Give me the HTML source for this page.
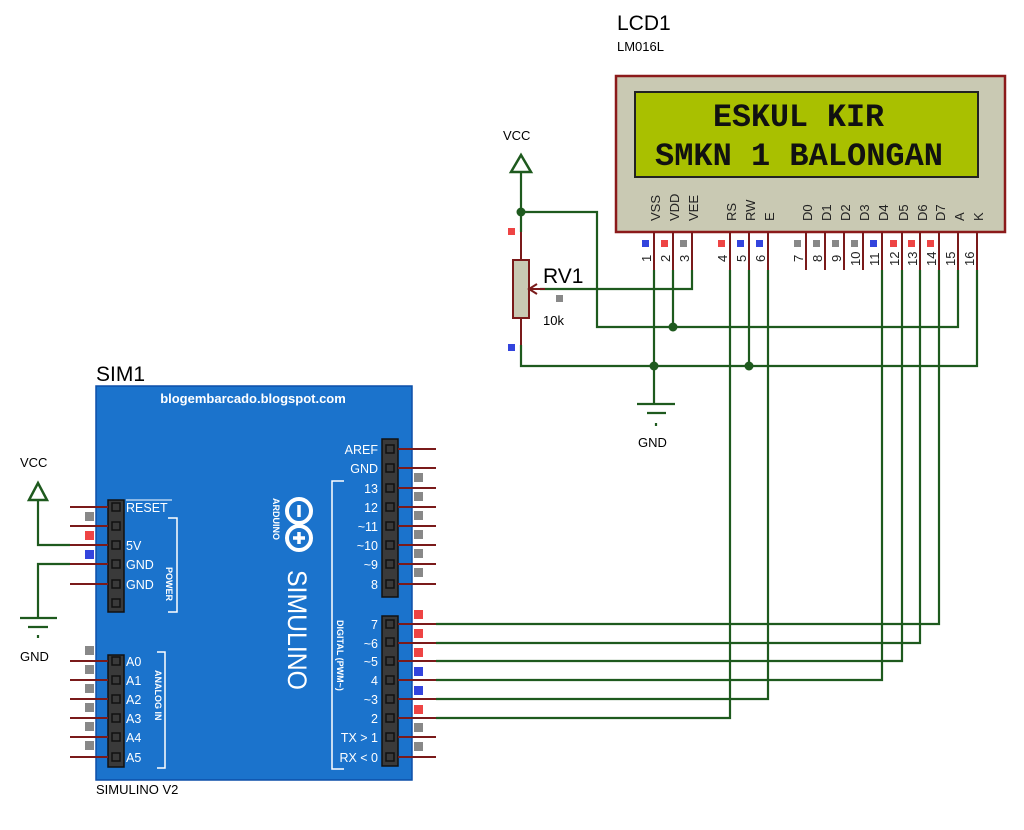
<!DOCTYPE html>
<html><head><meta charset="utf-8"><style>
html,body{margin:0;padding:0;background:#fff;}
svg{display:block;font-family:"Liberation Sans",Arial,sans-serif;}
</style></head><body>
<svg width="1024" height="830" viewBox="0 0 1024 830" xmlns="http://www.w3.org/2000/svg">
<rect width="1024" height="830" fill="#fff"/>
<!-- LCD -->
<text x="617" y="30" font-size="21">LCD1</text>
<text x="617" y="51" font-size="13">LM016L</text>
<rect x="616" y="76" width="389" height="156" fill="#c9c9b3" stroke="#8b1a1a" stroke-width="2.5"/>
<rect x="635" y="92" width="343" height="85" fill="#a9c000" stroke="#222" stroke-width="2"/>
<text x="713" y="126" font-family="Liberation Mono,monospace" font-size="32" font-weight="bold" textLength="171" lengthAdjust="spacingAndGlyphs" fill="#111">ESKUL KIR</text>
<text x="655" y="165" font-family="Liberation Mono,monospace" font-size="32" font-weight="bold" textLength="288" lengthAdjust="spacingAndGlyphs" fill="#111">SMKN 1 BALONGAN</text>
<g font-size="13" fill="#222">
<text transform="translate(660,221) rotate(-90)">VSS</text>
<text transform="translate(679,221) rotate(-90)">VDD</text>
<text transform="translate(698,221) rotate(-90)">VEE</text>
<text transform="translate(736,221) rotate(-90)">RS</text>
<text transform="translate(755,221) rotate(-90)">RW</text>
<text transform="translate(774,221) rotate(-90)">E</text>
<text transform="translate(812,221) rotate(-90)">D0</text>
<text transform="translate(831,221) rotate(-90)">D1</text>
<text transform="translate(850,221) rotate(-90)">D2</text>
<text transform="translate(869,221) rotate(-90)">D3</text>
<text transform="translate(888,221) rotate(-90)">D4</text>
<text transform="translate(908,221) rotate(-90)">D5</text>
<text transform="translate(927,221) rotate(-90)">D6</text>
<text transform="translate(945,221) rotate(-90)">D7</text>
<text transform="translate(964,221) rotate(-90)">A</text>
<text transform="translate(983,221) rotate(-90)">K</text>
</g>
<g font-size="13" fill="#222">
<text transform="translate(651,262) rotate(-90)">1</text>
<text transform="translate(670,262) rotate(-90)">2</text>
<text transform="translate(689,262) rotate(-90)">3</text>
<text transform="translate(727,262) rotate(-90)">4</text>
<text transform="translate(746,262) rotate(-90)">5</text>
<text transform="translate(765,262) rotate(-90)">6</text>
<text transform="translate(803,262) rotate(-90)">7</text>
<text transform="translate(822,262) rotate(-90)">8</text>
<text transform="translate(841,262) rotate(-90)">9</text>
<text transform="translate(860,266) rotate(-90)">10</text>
<text transform="translate(879,266) rotate(-90)">11</text>
<text transform="translate(899,266) rotate(-90)">12</text>
<text transform="translate(917,266) rotate(-90)">13</text>
<text transform="translate(936,266) rotate(-90)">14</text>
<text transform="translate(955,266) rotate(-90)">15</text>
<text transform="translate(974,266) rotate(-90)">16</text>
</g>
<g stroke="#7a1a1a" stroke-width="2">
<path d="M654 232V270M673 232V270M692 232V270M730 232V270M749 232V270M768 232V270M806 232V270M825 232V270M844 232V270M863 232V270M882 232V270M902 232V270M920 232V270M939 232V270M958 232V270M977 232V270"/>
</g>
<g>
<rect x="642" y="240" width="7" height="7" fill="#3344dd"/><rect x="661" y="240" width="7" height="7" fill="#ee4444"/><rect x="680" y="240" width="7" height="7" fill="#888"/>
<rect x="718" y="240" width="7" height="7" fill="#ee4444"/><rect x="737" y="240" width="7" height="7" fill="#3344dd"/><rect x="756" y="240" width="7" height="7" fill="#3344dd"/>
<rect x="794" y="240" width="7" height="7" fill="#888"/><rect x="813" y="240" width="7" height="7" fill="#888"/><rect x="832" y="240" width="7" height="7" fill="#888"/><rect x="851" y="240" width="7" height="7" fill="#888"/>
<rect x="870" y="240" width="7" height="7" fill="#3344dd"/><rect x="890" y="240" width="7" height="7" fill="#ee4444"/><rect x="908" y="240" width="7" height="7" fill="#ee4444"/><rect x="927" y="240" width="7" height="7" fill="#ee4444"/>
</g>
<g stroke="#1e5a1e" stroke-width="2.2" fill="none">
<path d="M521 172V232"/>
<path d="M521 212H597V327H958V270"/>
<path d="M673 270V327"/>
<path d="M521 345V366H977V270"/>
<path d="M654 270V404"/>
<path d="M749 270V366"/>
<path d="M692 270V289H540"/>
<path d="M730 270V718H436"/>
<path d="M768 270V699H436"/>
<path d="M882 270V680H436"/>
<path d="M902 270V661H436"/>
<path d="M920 270V643H436"/>
<path d="M939 270V624H436"/>
<path d="M637 404H675M647 413H666"/>
<path d="M656 423v3"/>
</g>
<path d="M511 172L521 155L531 172Z" fill="none" stroke="#1e5a1e" stroke-width="2.5"/>
<g fill="#1e5a1e"><circle cx="521" cy="212" r="4.5"/><circle cx="673" cy="327" r="4.5"/><circle cx="654" cy="366" r="4.5"/><circle cx="749" cy="366" r="4.5"/></g>
<text x="503" y="140" font-size="13">VCC</text>
<text x="638" y="447" font-size="13">GND</text>
<path d="M521 232V260M521 318V345" stroke="#7a1a1a" stroke-width="2"/>
<rect x="513" y="260" width="16" height="58" fill="#c9c9b3" stroke="#7a1a1a" stroke-width="2"/>
<path d="M529 289H545" stroke="#7a1a1a" stroke-width="2"/>
<path d="M537 284L529 289L537 294" fill="none" stroke="#7a1a1a" stroke-width="2"/>
<rect x="508" y="228" width="7" height="7" fill="#ee4444"/>
<rect x="508" y="344" width="7" height="7" fill="#3344dd"/>
<rect x="556" y="295" width="7" height="7" fill="#888"/>
<text x="543" y="283" font-size="21">RV1</text>
<text x="543" y="325" font-size="13">10k</text>
<text x="96" y="381" font-size="21">SIM1</text>
<text x="96" y="794" font-size="13">SIMULINO V2</text>
<rect x="96" y="386" width="316" height="394" fill="#1b73cc" stroke="#0d4fa8" stroke-width="1.5"/>
<text x="253" y="403" font-size="13" font-weight="bold" fill="#fff" text-anchor="middle">blogembarcado.blogspot.com</text>
<g stroke="#fff" stroke-width="4" fill="none"><circle cx="299" cy="511" r="12"/><circle cx="299" cy="538" r="12"/></g>
<path d="M299 505v12M299 532v12M293 538h12" stroke="#fff" stroke-width="3.5"/>
<text transform="translate(273,498) rotate(90)" font-size="9" font-weight="bold" fill="#fff">ARDUINO</text>
<text transform="translate(288,570) rotate(90)" font-size="27" fill="#fff" textLength="120" lengthAdjust="spacingAndGlyphs">SIMULINO</text>
<text transform="translate(337,620) rotate(90)" font-size="9" font-weight="bold" fill="#fff">DIGITAL  (PWM~)</text>
<text transform="translate(166,567) rotate(90)" font-size="9" font-weight="bold" fill="#fff">POWER</text>
<text transform="translate(155,670) rotate(90)" font-size="9" font-weight="bold" fill="#fff">ANALOG IN</text>
<g stroke="#fff" stroke-width="1.5" fill="none">
<path d="M344 481H332V769H344"/>
<path d="M168 518H177V612H168"/>
<path d="M157 652H165V768H157"/>
</g>
<g fill="#3a3a3a" stroke="#111" stroke-width="1.5">
<rect x="382" y="439" width="16" height="158"/>
<rect x="382" y="616" width="16" height="150"/>
<rect x="108" y="500" width="16" height="112"/>
<rect x="108" y="655" width="16" height="112"/>
</g>
<g fill="none" stroke="#111" stroke-width="1.5">
<rect x="386" y="445" width="8" height="8"/><rect x="386" y="464" width="8" height="8"/><rect x="386" y="484" width="8" height="8"/><rect x="386" y="503" width="8" height="8"/><rect x="386" y="522" width="8" height="8"/><rect x="386" y="541" width="8" height="8"/><rect x="386" y="560" width="8" height="8"/><rect x="386" y="580" width="8" height="8"/>
<rect x="386" y="620" width="8" height="8"/><rect x="386" y="638" width="8" height="8"/><rect x="386" y="657" width="8" height="8"/><rect x="386" y="676" width="8" height="8"/><rect x="386" y="695" width="8" height="8"/><rect x="386" y="714" width="8" height="8"/><rect x="386" y="733" width="8" height="8"/><rect x="386" y="753" width="8" height="8"/>
<rect x="112" y="503" width="8" height="8"/><rect x="112" y="522" width="8" height="8"/><rect x="112" y="541" width="8" height="8"/><rect x="112" y="560" width="8" height="8"/><rect x="112" y="580" width="8" height="8"/><rect x="112" y="599" width="8" height="8"/>
<rect x="112" y="657" width="8" height="8"/><rect x="112" y="676" width="8" height="8"/><rect x="112" y="695" width="8" height="8"/><rect x="112" y="714" width="8" height="8"/><rect x="112" y="733" width="8" height="8"/><rect x="112" y="753" width="8" height="8"/>
</g>
<g font-size="12.5" fill="#fff" text-anchor="end">
<text x="378" y="454">AREF</text><text x="378" y="473">GND</text><text x="378" y="493">13</text><text x="378" y="512">12</text><text x="378" y="531">~11</text><text x="378" y="550">~10</text><text x="378" y="569">~9</text><text x="378" y="589">8</text>
<text x="378" y="629">7</text><text x="378" y="648">~6</text><text x="378" y="666">~5</text><text x="378" y="685">4</text><text x="378" y="704">~3</text><text x="378" y="723">2</text><text x="378" y="742">TX &gt; 1</text><text x="378" y="762">RX &lt; 0</text>
</g>
<g font-size="12.5" fill="#fff">
<text x="126" y="512">RESET</text><text x="126" y="550">5V</text><text x="126" y="569">GND</text><text x="126" y="589">GND</text>
<text x="126" y="666">A0</text><text x="126" y="685">A1</text><text x="126" y="704">A2</text><text x="126" y="723">A3</text><text x="126" y="742">A4</text><text x="126" y="762">A5</text>
</g>
<path d="M126 500H172" stroke="#fff" stroke-width="1"/>
<g stroke="#7a1a1a" stroke-width="2">
<path d="M398 449H436M398 468H436M398 488H436M398 507H436M398 526H436M398 545H436M398 564H436M398 584H436M398 624H436M398 643H436M398 661H436M398 680H436M398 699H436M398 718H436M398 737H436M398 757H436"/>
<path d="M70 507H108M70 526H108M70 545H108M70 564H108M70 584H108"/>
<path d="M70 661H108M70 680H108M70 699H108M70 718H108M70 737H108M70 757H108"/>
</g>
<g fill="#888">
<rect x="414" y="473" width="9" height="9"/><rect x="414" y="492" width="9" height="9"/><rect x="414" y="511" width="9" height="9"/><rect x="414" y="530" width="9" height="9"/><rect x="414" y="549" width="9" height="9"/><rect x="414" y="568" width="9" height="9"/>
<rect x="414" y="723" width="9" height="9"/><rect x="414" y="742" width="9" height="9"/>
<rect x="85" y="512" width="9" height="9"/>
<rect x="85" y="646" width="9" height="9"/><rect x="85" y="665" width="9" height="9"/><rect x="85" y="684" width="9" height="9"/><rect x="85" y="703" width="9" height="9"/><rect x="85" y="722" width="9" height="9"/><rect x="85" y="741" width="9" height="9"/>
</g>
<g fill="#ee4444"><rect x="414" y="610" width="9" height="9"/><rect x="414" y="629" width="9" height="9"/><rect x="414" y="648" width="9" height="9"/><rect x="414" y="705" width="9" height="9"/><rect x="85" y="531" width="9" height="9"/></g>
<g fill="#3344dd"><rect x="414" y="667" width="9" height="9"/><rect x="414" y="686" width="9" height="9"/><rect x="85" y="550" width="9" height="9"/></g>
<g stroke="#1e5a1e" stroke-width="2.2" fill="none">
<path d="M38 500V545H70"/>
<path d="M70 564H38V618"/>
<path d="M20 618H57M28 627H48"/>
<path d="M38 635v3"/>
</g>
<path d="M29 500L38 483L47 500Z" fill="none" stroke="#1e5a1e" stroke-width="2.5"/>
<text x="20" y="467" font-size="13">VCC</text>
<text x="20" y="661" font-size="13">GND</text>
</svg>
</body></html>
